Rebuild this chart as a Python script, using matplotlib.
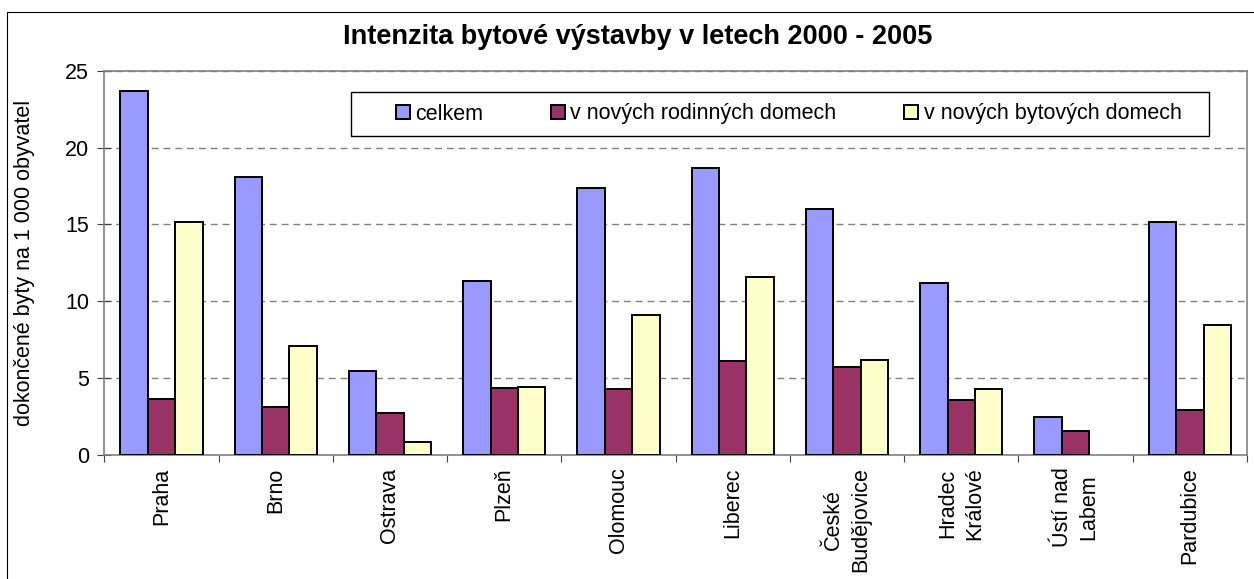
import numpy as np
import matplotlib
matplotlib.use('Agg')
import matplotlib.pyplot as plt
from matplotlib.patches import Rectangle

# Intenzita bytove vystavby 2000 - 2005 (dokoncene byty na 1 000 obyvatel)
mesta = ['Praha', 'Brno', 'Ostrava', 'Plzeň', 'Olomouc', 'Liberec',
         'České\nBudějovice', 'Hradec\nKrálové', 'Ústí nad\nLabem', 'Pardubice']
celkem = [23.7, 18.1, 5.45, 11.3, 17.4, 18.65, 16.0, 11.2, 2.5, 15.15]
rodinne = [3.65, 3.1, 2.75, 4.35, 4.3, 6.1, 5.75, 3.6, 1.55, 2.9]
bytove = [15.15, 7.1, 0.85, 4.4, 9.1, 11.6, 6.2, 4.3, np.nan, 8.45]

serie_nazvy = ['celkem', 'v nových rodinných domech', 'v nových bytových domech']
barvy = ['#9999FF', '#993366', '#FFFFCC']
y_ticks = [0, 5, 10, 15, 20, 25]

plt.rcParams['font.family'] = ['Liberation Sans', 'DejaVu Sans']
FS = 15.5

W, H = 1254, 579
fig = plt.figure(figsize=(W / 100, H / 100), dpi=100)

# plot area in pixels: left 104, right 1247, top 71, bottom 455
ax = fig.add_axes([104.3 / W, 1 - 455 / H, (1247 - 104.3) / W, (455 - 70.7) / H])

x = np.arange(len(mesta)) + 0.5
w = 0.24
for i, (vals, name, col) in enumerate(zip([celkem, rodinne, bytove], serie_nazvy, barvy)):
    ax.bar(x + (i - 1) * w, vals, w, color=col, edgecolor='black',
           linewidth=1.4, label=name, zorder=3)

ax.set_xlim(0, len(mesta))
ax.set_ylim(0, 25)
ax.set_yticks(y_ticks)
ax.tick_params(axis='y', direction='inout', length=10, width=0.8,
               color='#404040', labelsize=FS, pad=6)

# category boundaries get the ticks, centres carry the labels
ax.set_xticks(np.arange(len(mesta) + 1))
ax.set_xticklabels([])
ax.set_xticks(x, minor=True)
ax.set_xticklabels(mesta, minor=True, rotation=90, ha='center', va='top',
                   multialignment='center', linespacing=1.35, fontsize=FS)
ax.tick_params(axis='x', which='major', direction='out', length=5, width=0.8, color='#404040')
ax.tick_params(axis='x', which='minor', length=0, pad=9)

ax.set_axisbelow(True)
ax.yaxis.grid(True, color='#808080', linestyle=(0, (5, 3.5)), linewidth=1.0)
for s in ax.spines.values():
    s.set_color('#808080')
    s.set_linewidth(1.2)

ax.set_ylabel('dokončené byty na 1 000 obyvatel', fontsize=FS, va='center')
ax.yaxis.set_label_coords(-(104.3 - 25) / (1247 - 104.3), 0.5)

fig.text(637.5 / W, 1 - 37 / H, 'Intenzita bytové výstavby v letech 2000 - 2005',
         ha='center', va='center', fontsize=19.5, fontweight='bold')

# legend box drawn separately, entries placed inside it
fig.patches.append(Rectangle((351 / W, 1 - 135.7 / H), (1209 - 351) / W, (135.7 - 92.3) / H,
                             transform=fig.transFigure, facecolor='white',
                             edgecolor='black', linewidth=1.0, zorder=5))
leg = fig.legend(loc='center left', bbox_to_anchor=(385 / W, 1 - 114 / H), ncol=3,
                 frameon=False, fontsize=FS, handlelength=0.65, handleheight=0.65,
                 handletextpad=0.25, columnspacing=3.15, borderpad=0.0)
leg.set_zorder(6)

# outer chart border (right and bottom edges fall outside the picture)
fig.patches.append(Rectangle((7.3 / W, -0.05), 1.2, 1 - 12.3 / H + 0.05,
                             transform=fig.transFigure, fill=False,
                             edgecolor='black', linewidth=0.8, zorder=0))

fig.savefig('out.png', dpi=100)
